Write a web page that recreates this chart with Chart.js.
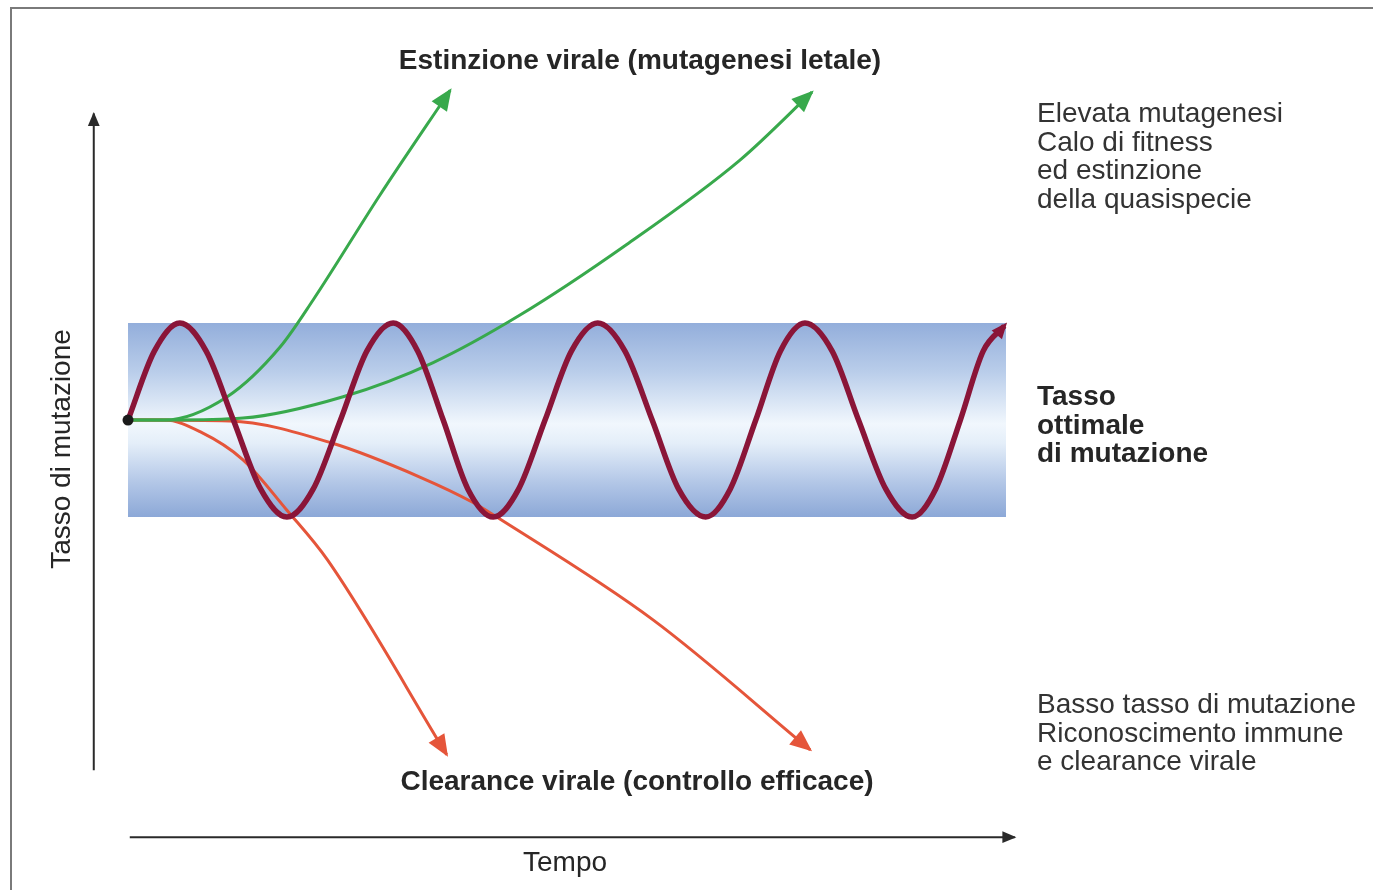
<!DOCTYPE html>
<html>
<head>
<meta charset="utf-8">
<script src="https://cdn.jsdelivr.net/npm/chart.js@4.4.1/dist/chart.umd.min.js"></script>
<style>
  html, body { margin: 0; padding: 0; background: #fff; }
  #wrap { width: 1373px; height: 890px; }
</style>
</head>
<body>
<div id="wrap"><canvas id="chart" width="1373" height="890"></canvas></div>
<script>
// time runs 0..10 across the band, rate 0 = optimal mutation rate, band = +/-1
var bandTime = [0, 10];
var bandUpper = [1, 1];
var bandLower = [-1, -1];

// oscillating optimal rate (dark red)
var sineTime = [0, 0.30, 0.59, 0.89, 1.20, 1.51, 1.81, 2.11, 2.42, 2.72, 3.02, 3.30,
    3.59, 3.87, 4.16, 4.45, 4.75, 5.05, 5.35, 5.66, 5.97, 6.27, 6.58, 6.86,
    7.15, 7.43, 7.71, 8.02, 8.32, 8.63, 8.93, 9.20, 9.48, 9.74, 9.98];
var sineRate = [0, 0.71, 1, 0.71, 0, -0.71, -1, -0.71, 0, 0.71, 1, 0.71,
    0, -0.71, -1, -0.71, 0, 0.71, 1, 0.71, 0, -0.71, -1, -0.71,
    0, 0.71, 1, 0.71, 0, -0.71, -1, -0.71, 0, 0.71, 0.97];

// lethal mutagenesis (green)
var lethalFastTime = [0, 0.42, 1.13, 1.73, 2.11, 2.87, 3.67];
var lethalFastRate = [0, 0, 0.24, 0.75, 1.24, 2.32, 3.40];
var lethalSlowTime = [0, 0.48, 1.31, 2.45, 3.47, 4.46, 5.68, 6.97, 7.79];
var lethalSlowRate = [0, 0, 0.02, 0.24, 0.59, 1.08, 1.81, 2.68, 3.38];

// viral clearance (red)
var clearFastTime = [0, 0.42, 0.82, 1.31, 1.81, 2.27, 3.63];
var clearFastRate = [0, 0, -0.12, -0.41, -0.93, -1.44, -3.45];
var clearSlowTime = [0, 1.16, 2.33, 3.33, 3.93, 4.20, 5.98, 7.77];
var clearSlowRate = [0, -0.01, -0.24, -0.59, -0.85, -1.0, -2.06, -3.40];

// axes drawn as arrows
var yAxisTime = [-0.39, -0.39];
var yAxisRate = [-3.61, 3.16];
var xAxisTime = [0.02, 10.1];
var xAxisRate = [-4.30, -4.30];

var titleTop = 'Estinzione virale (mutagenesi letale)';
var titleBottom = 'Clearance virale (controllo efficace)';
var xLabel = 'Tempo';
var yLabel = 'Tasso di mutazione';
var noteHigh = ['Elevata mutagenesi', 'Calo di fitness', 'ed estinzione', 'della quasispecie'];
var noteOptimal = ['Tasso', 'ottimale', 'di mutazione'];
var noteLow = ['Basso tasso di mutazione', 'Riconoscimento immune', 'e clearance virale'];

var GREEN = '#38a94c';
var RED = '#e5553a';
var WINE = '#8a1538';
var FONT = '"Liberation Sans", Arial, Helvetica, sans-serif';

function pts(xs, ys) {
    return xs.map(function (x, i) { return { x: x, y: ys[i] }; });
}

function bandGradient(context) {
    var chart = context.chart;
    if (!chart.chartArea) return '#b8cbe8';
    var y = chart.scales.y;
    var top = y.getPixelForValue(1), bottom = y.getPixelForValue(-1);
    var g = chart.ctx.createLinearGradient(0, top, 0, bottom);
    g.addColorStop(0, '#93aedb');
    g.addColorStop(0.25, '#b9cdea');
    g.addColorStop(0.52, '#f1f7fd');
    g.addColorStop(0.62, '#e4eef9');
    g.addColorStop(0.82, '#b3c7e7');
    g.addColorStop(1, '#8ca8d7');
    return g;
}

var arrowHeads = {
    id: 'arrowHeads',
    afterDatasetsDraw: function (chart) {
        var ctx = chart.ctx;
        chart.data.datasets.forEach(function (ds, i) {
            if (!ds.arrowSize) return;
            var data = chart.getDatasetMeta(i).data;
            var p = data[data.length - 1];
            var fx = p.cp1x, fy = p.cp1y;
            if (fx === undefined || (Math.abs(fx - p.x) < 0.5 && Math.abs(fy - p.y) < 0.5)) {
                fx = data[data.length - 2].x;
                fy = data[data.length - 2].y;
            }
            var ang = Math.atan2(p.y - fy, p.x - fx);
            var len = ds.arrowSize, half = ds.arrowSize * 0.42;
            var ext = ds.borderWidth * 0.8;
            ctx.save();
            ctx.translate(p.x + Math.cos(ang) * ext, p.y + Math.sin(ang) * ext);
            ctx.rotate(ang);
            ctx.beginPath();
            ctx.moveTo(0, 0);
            ctx.lineTo(-len, -half);
            ctx.lineTo(-len, half);
            ctx.closePath();
            ctx.fillStyle = ds.borderColor;
            ctx.fill();
            ctx.restore();
        });
    }
};

var labels = {
    id: 'labels',
    beforeDraw: function (chart) {
        var ctx = chart.ctx;
        // frame
        ctx.save();
        ctx.strokeStyle = '#7a7a7a';
        ctx.lineWidth = 2;
        ctx.beginPath();
        ctx.moveTo(11, 890);
        ctx.lineTo(11, 8);
        ctx.lineTo(1373, 8);
        ctx.stroke();
        ctx.restore();
    },
    afterDraw: function (chart) {
        var ctx = chart.ctx;
        ctx.save();
        ctx.fillStyle = '#262626';
        ctx.textBaseline = 'alphabetic';

        ctx.font = 'bold 28px ' + FONT;
        ctx.textAlign = 'center';
        ctx.fillText(titleTop, 640, 69);
        ctx.fillText(titleBottom, 637, 790);

        ctx.font = '28px ' + FONT;
        ctx.fillText(xLabel, 565, 871);

        ctx.save();
        ctx.translate(70, 449);
        ctx.rotate(-Math.PI / 2);
        ctx.fillText(yLabel, 0, 0);
        ctx.restore();

        ctx.textAlign = 'left';
        ctx.fillStyle = '#333';
        noteHigh.forEach(function (t, i) { ctx.fillText(t, 1037, 122 + i * 28.5); });
        noteLow.forEach(function (t, i) { ctx.fillText(t, 1037, 713 + i * 28.5); });

        ctx.font = 'bold 28px ' + FONT;
        ctx.fillStyle = '#262626';
        noteOptimal.forEach(function (t, i) { ctx.fillText(t, 1037, 405 + i * 28.5); });
        ctx.restore();
    }
};

var curve = {
    fill: false,
    pointRadius: 0,
    cubicInterpolationMode: 'monotone'
};

var ctx = document.getElementById('chart');
var myChart = new Chart(ctx, {
    type: 'line',
    data: {
        datasets: [
            { label: 'start', data: pts([0], [0]), showLine: false, pointRadius: 5.5,
                pointBackgroundColor: '#1a1a1a', pointBorderWidth: 0, order: 0 },
            Object.assign({}, curve, { label: 'optimal', data: pts(sineTime, sineRate),
                borderColor: WINE, borderWidth: 5.5, arrowSize: 16, order: 1 }),
            Object.assign({}, curve, { label: 'lethal fast', data: pts(lethalFastTime, lethalFastRate),
                borderColor: GREEN, borderWidth: 3, arrowSize: 22, order: 2 }),
            Object.assign({}, curve, { label: 'lethal slow', data: pts(lethalSlowTime, lethalSlowRate),
                borderColor: GREEN, borderWidth: 3, arrowSize: 22, order: 2 }),
            Object.assign({}, curve, { label: 'clearance fast', data: pts(clearFastTime, clearFastRate),
                borderColor: RED, borderWidth: 3, arrowSize: 22, order: 3 }),
            Object.assign({}, curve, { label: 'clearance slow', data: pts(clearSlowTime, clearSlowRate),
                borderColor: RED, borderWidth: 3, arrowSize: 22, order: 3 }),
            { label: 'y axis', data: pts(yAxisTime, yAxisRate), borderColor: '#2a2a2a', borderWidth: 2,
                pointRadius: 0, tension: 0, fill: false, arrowSize: 14, order: 4 },
            { label: 'x axis', data: pts(xAxisTime, xAxisRate), borderColor: '#2a2a2a', borderWidth: 2,
                pointRadius: 0, tension: 0, fill: false, arrowSize: 14, order: 4 },
            { label: 'band top', data: pts(bandTime, bandUpper), borderWidth: 0, pointRadius: 0,
                fill: '+1', backgroundColor: bandGradient, order: 9 },
            { label: 'band bottom', data: pts(bandTime, bandLower), borderWidth: 0, pointRadius: 0,
                fill: false, order: 9 }
        ]
    },
    plugins: [labels, arrowHeads],
    options: {
        responsive: false,
        animation: false,
        events: [],
        layout: { padding: 0, autoPadding: false },
        plugins: {
            legend: { display: false },
            tooltip: { enabled: false },
            title: { display: false }
        },
        scales: {
            x: { type: 'linear', display: false, min: -1.458, max: 14.18 },
            y: { type: 'linear', display: false, min: -4.845, max: 4.33 }
        }
    }
});
</script>
</body>
</html>
